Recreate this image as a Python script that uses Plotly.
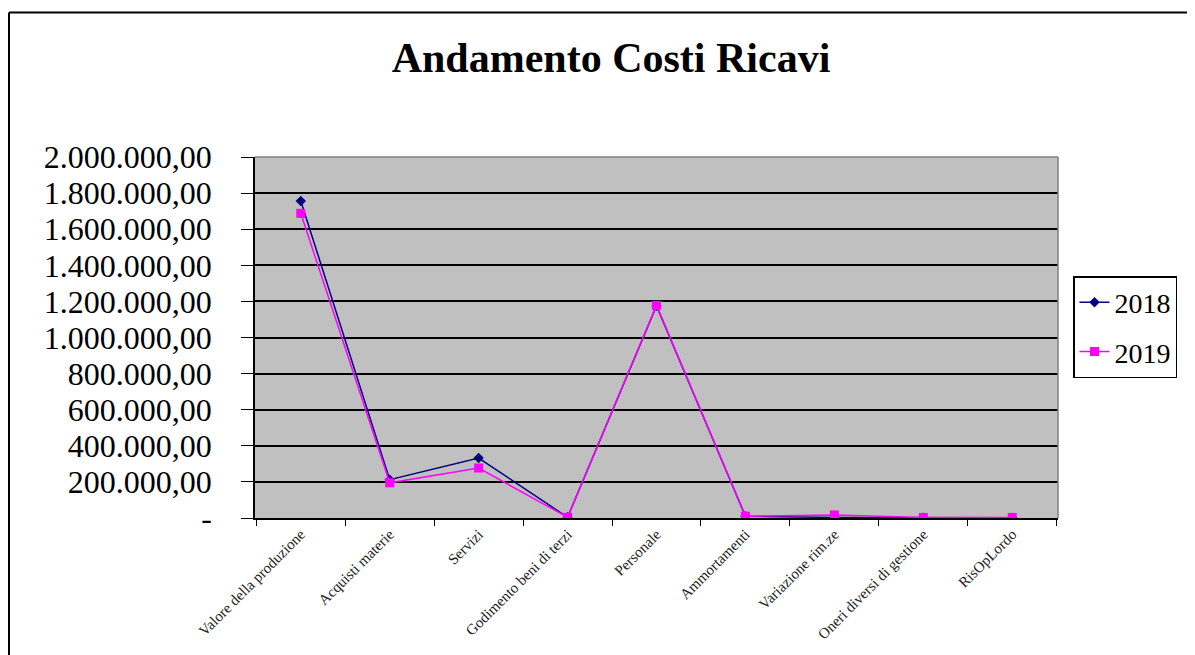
import plotly.graph_objects as go

categories = ["Valore della produzione", "Acquisti materie", "Servizi",
              "Godimento beni di terzi", "Personale", "Ammortamenti",
              "Variazione rim.ze", "Oneri diversi di gestione", "RisOpLordo"]
series_names = ["2018", "2019"]
values_2018 = [1756000, 212000, 332000, 4000, 1175000, 10000, 3000, 2000, 2000]
values_2019 = [1688000, 195000, 277000, 4000, 1178000, 10000, 17000, 3000, 3000]
y_tickvals = [0, 200000, 400000, 600000, 800000, 1000000, 1200000, 1400000,
              1600000, 1800000, 2000000]
y_ticktext = ["-", "200.000,00", "400.000,00", "600.000,00", "800.000,00",
              "1.000.000,00", "1.200.000,00", "1.400.000,00", "1.600.000,00",
              "1.800.000,00", "2.000.000,00"]

FONT = "Liberation Serif"
OFF = 8  # page body margin
W, H = 1195 - OFF, 655 - OFF
L, R, T, B = 255 - OFF, 1058 - OFF, 157 - OFF, 518 - OFF

def px_x(p):
    return (p - OFF - L) / (R - L)

def px_y(p):
    return (B - (p - OFF)) / (B - T)

fig = go.Figure()
fig.add_trace(go.Scatter(x=categories, y=values_2018, name=series_names[0],
                         mode="lines+markers", legendgroup="a",
                         line=dict(color="#000080", width=1.5),
                         marker=dict(symbol="diamond", size=8, color="#000080")))
fig.add_trace(go.Scatter(x=categories, y=values_2019, name=series_names[1],
                         mode="lines+markers", legendgroup="b",
                         line=dict(color="#FF00FF", width=1.5),
                         marker=dict(symbol="square", size=9, color="#FF00FF")))

shapes = [
    # outer frame (left & top)
    dict(type="line", xref="paper", yref="paper", x0=px_x(9), x1=px_x(1200),
         y0=px_y(12.5), y1=px_y(12.5), line=dict(color="black", width=2)),
    dict(type="line", xref="paper", yref="paper", x0=px_x(9), x1=px_x(9),
         y0=px_y(12.5), y1=px_y(660), line=dict(color="black", width=2)),
    # plot area top/right border
    dict(type="line", xref="paper", yref="paper", x0=0, x1=1, y0=1, y1=1,
         line=dict(color="#808080", width=1.5)),
    dict(type="line", xref="paper", yref="paper", x0=1, x1=1, y0=0, y1=1,
         line=dict(color="#808080", width=1.5)),
]

fig.update_layout(
    width=W, height=H,
    margin=dict(l=L, r=W - R, t=T, b=H - B),
    paper_bgcolor="white",
    plot_bgcolor="#C0C0C0",
    font=dict(family=FONT, color="black"),
    title=dict(text="<b>Andamento Costi Ricavi</b>", xref="container",
               x=(611 - OFF) / W, xanchor="center",
               y=1 - (57 - OFF) / H, yanchor="middle",
               font=dict(family=FONT, size=42, color="black")),
    showlegend=True,
    legend=dict(x=px_x(1073), y=px_y(276), xanchor="left", yanchor="top",
                bgcolor="white", bordercolor="black", borderwidth=1.5,
                font=dict(family=FONT, size=28, color="black"),
                tracegroupgap=10),
    shapes=shapes,
)

fig.update_xaxes(type="category", tickangle=-45, tickson="boundaries",
                 ticks="outside", ticklen=6, tickcolor="black", tickwidth=1,
                 showline=True, linecolor="black", linewidth=1.5,
                 showgrid=False, zeroline=False,
                 tickfont=dict(family=FONT, size=15, color="#222222"))
fig.update_yaxes(range=[0, 2000000], tickvals=y_tickvals, ticktext=y_ticktext,
                 ticks="outside", ticklen=12, tickcolor="black", tickwidth=1,
                 showline=True, linecolor="black", linewidth=1.5,
                 showgrid=True, gridcolor="black", gridwidth=1.5,
                 zeroline=False, ticklabelstandoff=23,
                 tickfont=dict(family=FONT, size=32, color="black"))

fig.write_html("out.html")
